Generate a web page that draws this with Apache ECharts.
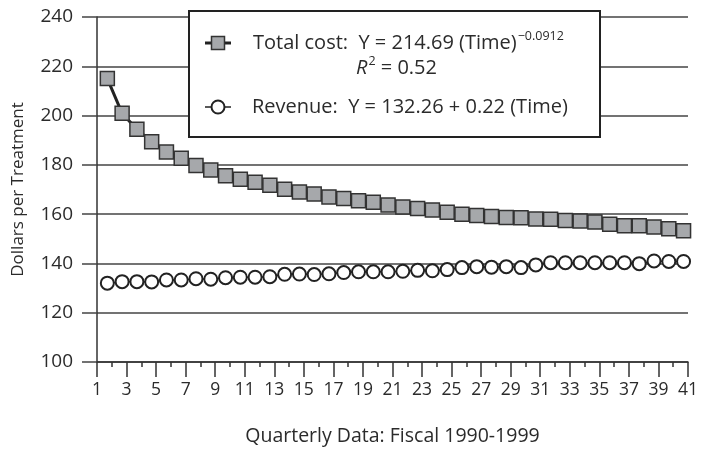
<!DOCTYPE html>
<html>
<head>
<meta charset="utf-8">
<script src="https://cdn.jsdelivr.net/npm/echarts@6/dist/echarts.min.js"></script>
<style>html,body{margin:0;padding:0;background:#fff}#c{width:701px;height:455px}</style>
</head>
<body>
<div id="c"></div>
<script>
const quarters = [1,2,3,4,5,6,7,8,9,10,11,12,13,14,15,16,17,18,19,20,21,22,23,24,25,26,27,28,29,30,31,32,33,34,35,36,37,38,39,40];
const costValues = [215.0,200.9,194.4,189.4,185.2,182.7,179.7,177.9,175.6,174.2,172.9,171.7,170.1,169.0,168.2,167.0,166.3,165.4,164.8,163.7,162.9,162.3,161.7,160.8,160.0,159.4,159.0,158.6,158.5,158.0,157.9,157.4,157.2,156.8,155.9,155.3,155.3,154.8,154.1,153.3];
const revenueValues = [132.0,132.6,132.6,132.5,133.3,133.3,133.8,133.6,134.2,134.4,134.4,134.6,135.6,135.7,135.5,135.8,136.3,136.6,136.6,136.6,136.8,137.2,137.0,137.5,138.3,138.7,138.5,138.7,138.3,139.4,140.3,140.3,140.3,140.3,140.3,140.3,139.9,141.0,140.8,140.8];
const yAxisTitle = 'Dollars per Treatment';
const xAxisTitle = 'Quarterly Data: Fiscal 1990-1999';

const X_OFFSET = 0.7; // quarters plotted within their tick interval
const FONT = '"Open Sans", sans-serif';
const TXT = '#2b2b2b';

const costData = quarters.map((q, i) => [q + X_OFFSET, costValues[i]]);
const revData = quarters.map((q, i) => [q + X_OFFSET, revenueValues[i]]);

const chart = echarts.init(document.getElementById('c'), null, {renderer: 'canvas'});
chart.setOption({
  animation: false,
  backgroundColor: '#fff',
  grid: {left: 97, right: 11, top: 17, bottom: 93, containLabel: false},
  xAxis: {
    type: 'value', min: 1, max: 41, interval: 2,
    name: xAxisTitle, nameLocation: 'middle', nameGap: 64,
    nameTextStyle: {fontFamily: FONT, fontSize: 19.5, color: TXT, verticalAlign: 'top'},
    axisLine: {show: true, onZero: false, lineStyle: {color: '#333', width: 1.5}},
    axisTick: {show: true, length: 15, lineStyle: {color: '#333', width: 1.5}},
    minorTick: {show: true, splitNumber: 2, length: 5, lineStyle: {color: '#333', width: 1.5}},
    axisLabel: {fontFamily: FONT, fontSize: 17.5, color: TXT, margin: 19},
    splitLine: {show: false}
  },
  yAxis: {
    type: 'value', min: 100, max: 240, interval: 20,
    name: yAxisTitle, nameLocation: 'middle', nameGap: 70,
    nameTextStyle: {fontFamily: FONT, fontSize: 17, color: TXT},
    axisLine: {show: true, lineStyle: {color: '#333', width: 1.5}},
    axisTick: {show: true, length: 15, lineStyle: {color: '#444', width: 1.5}},
    axisLabel: {fontFamily: FONT, fontSize: 19, color: TXT, margin: 24},
    splitLine: {show: true, lineStyle: {color: '#444', width: 1.5}}
  },
  series: [
    {
      name: 'Revenue', type: 'line', data: revData,
      symbol: 'circle', symbolSize: 13,
      lineStyle: {color: '#222', width: 1.5},
      itemStyle: {color: '#fff', borderColor: '#222', borderWidth: 2},
      z: 3
    },
    {
      name: 'Total cost', type: 'line', data: costData,
      symbol: 'rect', symbolSize: 14,
      lineStyle: {color: '#222', width: 3},
      itemStyle: {color: '#a6a8ab', borderColor: '#333', borderWidth: 1.5},
      z: 4
    }
  ],
  graphic: [
    {type: 'rect', shape: {x: 189, y: 11, width: 411, height: 126},
     style: {fill: '#fff', stroke: '#222', lineWidth: 2}, z: 100},
    {type: 'line', shape: {x1: 205, y1: 43, x2: 231, y2: 43}, style: {stroke: '#222', lineWidth: 3}, z: 101},
    {type: 'rect', shape: {x: 211.5, y: 36.5, width: 13, height: 13},
     style: {fill: '#a6a8ab', stroke: '#333', lineWidth: 1.5}, z: 102},
    {type: 'text', x: 253, y: 43, z: 102,
     style: {
       text: '{a|Total cost:  Y = 214.69 (Time)}{s|−0.0912}',
       verticalAlign: 'middle', fill: TXT,
       rich: {
         a: {fontFamily: FONT, fontSize: 20, color: TXT},
         s: {fontFamily: FONT, fontSize: 12.5, color: TXT, padding: [0, 0, 14, 1]}
       }
     }},
    {type: 'text', x: 356, y: 68, z: 102,
     style: {
       text: '{i|R}{s|2}{a| = 0.52}',
       verticalAlign: 'middle', fill: TXT,
       rich: {
         a: {fontFamily: FONT, fontSize: 20, color: TXT},
         i: {fontFamily: FONT, fontSize: 20, fontStyle: 'italic', color: TXT},
         s: {fontFamily: FONT, fontSize: 12.5, color: TXT, padding: [0, 0, 14, 1]}
       }
     }},
    {type: 'line', shape: {x1: 205, y1: 107, x2: 231, y2: 107}, style: {stroke: '#222', lineWidth: 1.5}, z: 101},
    {type: 'circle', shape: {cx: 218, cy: 107, r: 6.5}, style: {fill: '#fff', stroke: '#222', lineWidth: 2}, z: 102},
    {type: 'text', x: 252, y: 107, z: 102,
     style: {text: 'Revenue:  Y = 132.26 + 0.22 (Time)', verticalAlign: 'middle',
       fontFamily: FONT, fontSize: 20, fill: TXT}}
  ]
});
</script>
</body>
</html>
